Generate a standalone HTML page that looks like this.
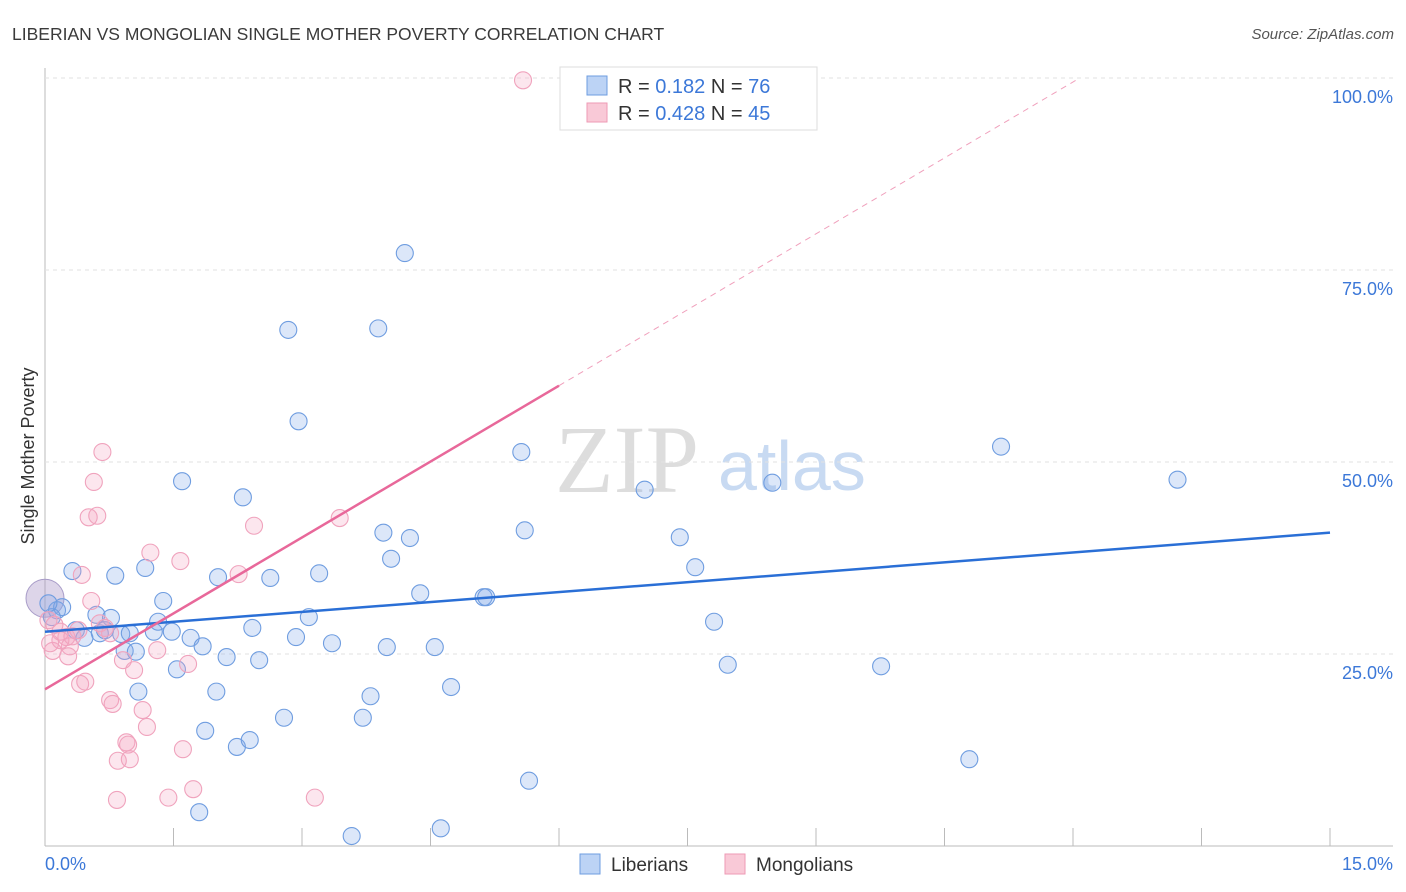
<!DOCTYPE html>
<html><head><meta charset="utf-8"><style>
body{margin:0;background:#fff;font-family:"Liberation Sans",sans-serif}
</style></head><body>
<svg id="c" width="1406" height="892" xmlns="http://www.w3.org/2000/svg" style="display:block">
<text x="12" y="40" font-size="17.5" fill="#3a3a3a">LIBERIAN VS MONGOLIAN SINGLE MOTHER POVERTY CORRELATION CHART</text>
<text x="1394" y="39" font-size="15" fill="#555" font-style="italic" text-anchor="end">Source: ZipAtlas.com</text>
<text x="34" y="456" font-size="18" fill="#333" text-anchor="middle" transform="rotate(-90 34 456)">Single Mother Poverty</text>
<text x="555" y="492" font-size="96" font-family="Liberation Serif,serif" fill="#ddd">ZIP</text>
<text x="718" y="490" font-size="70" fill="#c8daf2">atlas</text>
<g id="grid"></g><g id="pts"></g><g id="lines"></g>
<g>
<rect x="560" y="67" width="257" height="63" fill="#fff" stroke="#ddd"/>
<rect x="587" y="76" width="20" height="19" fill="#bcd3f5" stroke="#6e9ce0"/>
<rect x="587" y="103" width="20" height="19" fill="#f9c9d7" stroke="#ee9ab4"/>
<text x="618" y="93" font-size="20" fill="#333">R = <tspan fill="#3c78d8"> 0.182</tspan>   N = <tspan fill="#3c78d8"> 76</tspan></text>
<text x="618" y="120" font-size="20" fill="#333">R = <tspan fill="#3c78d8">0.428</tspan>   N = <tspan fill="#3c78d8"> 45</tspan></text>
</g>
<g>
<rect x="580" y="854" width="20" height="20" fill="#bcd3f5" stroke="#6e9ce0"/>
<text x="611" y="871" font-size="19" fill="#333">Liberians</text>
<rect x="725" y="854" width="20" height="20" fill="#f9c9d7" stroke="#ee9ab4"/>
<text x="756" y="871" font-size="19" fill="#333">Mongolians</text>
</g>
</svg>
<script>
const blueX=[0.32,0.82,1.17,0.14,0.20,0.60,0.77,0.36,0.46,0.64,0.70,0.89,0.99,0.93,1.06,1.27,1.32,1.38,1.48,1.54,1.09,1.60,1.70,1.84,2.00,1.87,1.80,2.02,2.12,2.24,2.31,2.39,2.42,2.50,2.63,2.79,2.84,2.93,2.96,3.08,3.20,3.35,3.58,3.71,3.80,3.89,3.95,3.99,4.04,4.20,4.26,4.38,4.55,4.62,4.74,5.12,5.15,5.56,5.60,5.65,7.00,7.41,7.59,7.81,7.97,8.49,9.76,10.79,11.16,13.22,0.08,0.04];
const blueY=[35.8,35.2,36.2,30.7,31.1,30.1,29.7,28.1,27.1,27.7,28.1,27.6,27.7,25.4,25.3,27.9,29.2,31.9,27.9,23.0,20.1,47.5,27.1,26.0,20.1,15.0,4.4,35.0,24.6,12.9,45.4,13.8,28.4,24.2,34.9,16.7,67.2,27.2,55.3,29.8,35.5,26.4,1.3,16.7,19.5,67.4,40.8,25.9,37.4,77.2,40.1,32.9,25.9,2.3,20.7,32.4,32.4,51.3,41.1,8.5,46.4,40.2,36.3,29.2,23.6,47.3,23.4,11.3,52.0,47.7,29.8,31.6];
const pinkX=[5.58,0.67,0.57,0.51,0.61,1.23,1.58,2.44,3.44,2.26,0.43,0.54,0.64,0.11,0.18,0.25,0.29,0.09,0.27,0.39,0.70,0.41,0.47,0.76,0.79,0.91,1.04,1.14,1.19,1.31,1.67,0.95,0.97,0.85,0.99,1.61,0.84,1.44,1.73,3.15,0.18,0.06,0.32,0.76,0.04];
const pinkY=[99.7,51.3,47.4,42.8,43.0,38.2,37.1,41.7,42.7,35.4,35.3,31.9,29.0,28.8,27.9,27.2,26.0,25.4,24.7,28.1,28.4,21.1,21.4,19.0,18.5,24.2,22.9,17.7,15.5,25.5,23.7,13.5,13.2,11.1,11.3,12.6,6.0,6.3,7.4,6.3,26.8,26.4,27.3,27.7,29.4];
const xTicks=[0,1.5,3,4.5,6,7.5,9,10.5,12,13.5,15];
const yTicks=[25,50,75,100];
const yTickLabels=["25.0%","50.0%","75.0%","100.0%"];
const blueFit=[27.9,40.8];
const pinkFit=[20.4,6.59];
const NS="http://www.w3.org/2000/svg";
const X=v=>45+v*1285/15, Y=v=>846-v*7.68;
function mk(t,a,p){const e=document.createElementNS(NS,t);for(const k in a)e.setAttribute(k,a[k]);p.appendChild(e);return e;}
const g=document.getElementById('grid');
mk('line',{x1:45,y1:68,x2:45,y2:846,stroke:'#bbb'},g);
mk('line',{x1:45,y1:846,x2:1393,y2:846,stroke:'#bbb'},g);
yTicks.forEach((t,i)=>{
 const l=mk('line',{x1:45,y1:Y(t),x2:1393,y2:Y(t),stroke:'#e2e2e2','stroke-dasharray':'4,4'},g);
 
 
 const tx=mk('text',{x:1393,y:Y(t)+25,'font-size':18,fill:'#3c78d8','text-anchor':'end'},g);tx.textContent=yTickLabels[i];
 
 
});
xTicks.forEach(t=>{
 const l=mk('line',{x1:X(t),y1:828,x2:X(t),y2:846,stroke:'#bbb'},g);
 
 
});
[[0,'0.0%','start',45],[15,'15.0%','end',1393]].forEach(d=>{
 const tx=mk('text',{x:d[3],y:870,'font-size':18,fill:'#3c78d8','text-anchor':d[2]},g);tx.textContent=d[1];
 
 
});
const p=document.getElementById('pts');
const big=mk('circle',{cx:45,cy:Y(32)-2,r:19,fill:'rgba(170,150,200,0.4)',stroke:'#a89cc8'},p);


blueX.forEach((v,i)=>{
 const c=mk('circle',{cx:X(v),cy:Y(blueY[i]),r:8.5,fill:'rgba(130,170,235,0.28)',stroke:'#6f9de0','stroke-width':1.1},p);
 
 
});
pinkX.forEach((v,i)=>{
 const c=mk('circle',{cx:X(v),cy:Y(pinkY[i]),r:8.5,fill:'rgba(245,165,195,0.28)',stroke:'#f0a3bd','stroke-width':1.1},p);
 
 
});
const L=document.getElementById('lines');
const bl=mk('line',{x1:X(0),y1:Y(blueFit[0]),x2:X(15),y2:Y(blueFit[1]),stroke:'#2a6fd6','stroke-width':2.5},L);


const xEnd=6.0, xMax=(100-pinkFit[0])/pinkFit[1];
const pl=mk('line',{x1:X(0),y1:Y(pinkFit[0]),x2:X(xEnd),y2:Y(pinkFit[0]+pinkFit[1]*xEnd),stroke:'#e8689a','stroke-width':2.5},L);


const pd=mk('line',{x1:X(xEnd),y1:Y(pinkFit[0]+pinkFit[1]*xEnd),x2:X(xMax),y2:Y(100),stroke:'#f0a0bc','stroke-width':1,'stroke-dasharray':'6,5'},L);


</script>
</body></html>
